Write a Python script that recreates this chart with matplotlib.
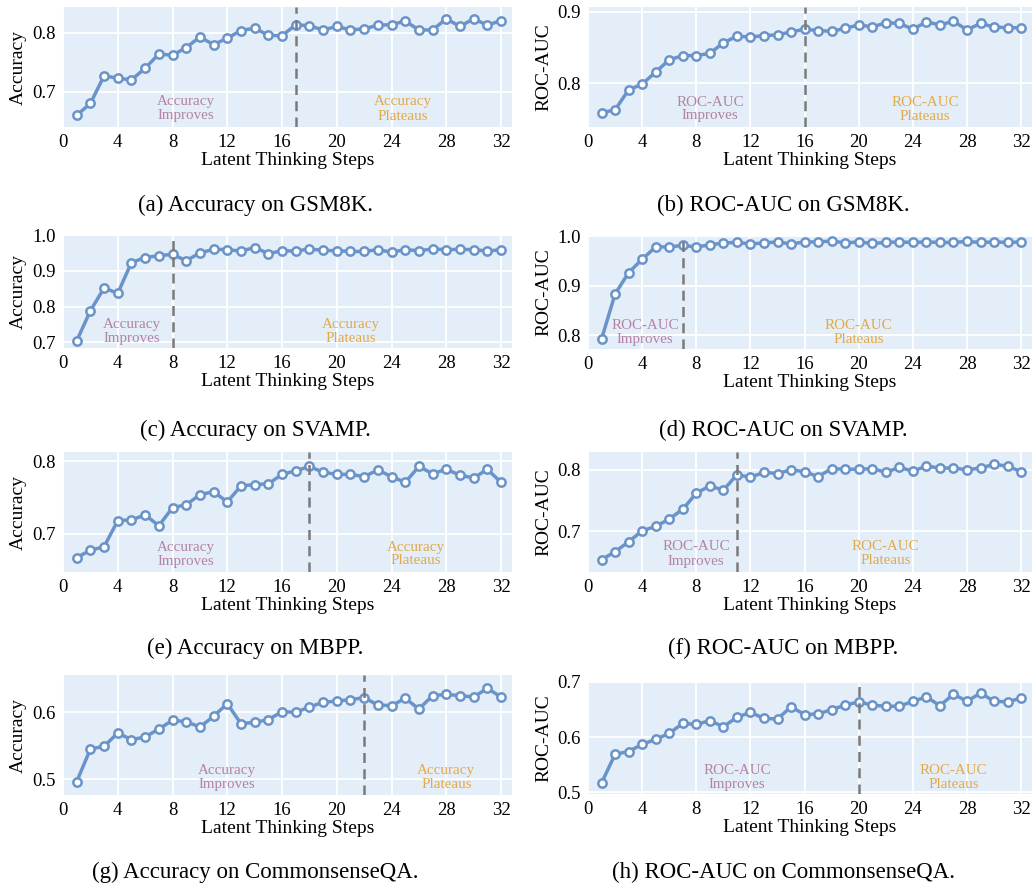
import matplotlib
matplotlib.use('Agg')
import matplotlib.pyplot as plt
from matplotlib.ticker import MultipleLocator, FormatStrFormatter

plt.rcParams['font.family'] = ['Liberation Serif', 'DejaVu Serif']

# latent thinking steps 1..32
steps = list(range(1, 33))

gsm8k_acc = [0.660, 0.680, 0.727, 0.723, 0.720, 0.740, 0.764, 0.762, 0.775, 0.793, 0.780, 0.791,
             0.804, 0.808, 0.796, 0.795, 0.814, 0.812, 0.805, 0.811, 0.805, 0.807, 0.813, 0.814,
             0.820, 0.805, 0.805, 0.824, 0.811, 0.824, 0.813, 0.821]
gsm8k_auc = [0.759, 0.763, 0.791, 0.799, 0.816, 0.833, 0.839, 0.839, 0.842, 0.857, 0.866, 0.865,
             0.867, 0.868, 0.872, 0.876, 0.874, 0.873, 0.877, 0.882, 0.879, 0.885, 0.884, 0.876,
             0.886, 0.882, 0.887, 0.875, 0.884, 0.879, 0.878, 0.878]
svamp_acc = [0.704, 0.788, 0.852, 0.837, 0.923, 0.937, 0.942, 0.946, 0.928, 0.950, 0.960, 0.959,
             0.955, 0.965, 0.948, 0.956, 0.955, 0.961, 0.957, 0.956, 0.954, 0.954, 0.959, 0.952,
             0.959, 0.956, 0.961, 0.959, 0.960, 0.959, 0.955, 0.959]
svamp_auc = [0.792, 0.883, 0.926, 0.953, 0.978, 0.978, 0.981, 0.978, 0.982, 0.986, 0.987, 0.984,
             0.986, 0.988, 0.984, 0.988, 0.988, 0.990, 0.986, 0.988, 0.985, 0.987, 0.988, 0.987,
             0.988, 0.987, 0.987, 0.989, 0.987, 0.988, 0.987, 0.988]
mbpp_acc = [0.667, 0.677, 0.682, 0.718, 0.719, 0.726, 0.711, 0.736, 0.740, 0.754, 0.758, 0.744,
            0.766, 0.768, 0.769, 0.782, 0.787, 0.793, 0.785, 0.782, 0.782, 0.779, 0.788, 0.779,
            0.771, 0.793, 0.783, 0.789, 0.781, 0.777, 0.789, 0.771]
mbpp_auc = [0.654, 0.667, 0.683, 0.701, 0.708, 0.720, 0.736, 0.762, 0.774, 0.767, 0.792, 0.788,
            0.796, 0.794, 0.800, 0.797, 0.789, 0.802, 0.801, 0.801, 0.802, 0.796, 0.804, 0.798,
            0.806, 0.803, 0.803, 0.800, 0.803, 0.809, 0.806, 0.797]
csqa_acc = [0.496, 0.545, 0.549, 0.569, 0.559, 0.563, 0.575, 0.588, 0.586, 0.578, 0.594, 0.613,
            0.583, 0.585, 0.589, 0.601, 0.600, 0.608, 0.615, 0.617, 0.619, 0.622, 0.611, 0.610,
            0.621, 0.605, 0.625, 0.627, 0.625, 0.623, 0.636, 0.623]
csqa_auc = [0.517, 0.569, 0.574, 0.587, 0.596, 0.607, 0.625, 0.623, 0.630, 0.619, 0.636, 0.645,
            0.634, 0.633, 0.655, 0.641, 0.642, 0.650, 0.658, 0.664, 0.658, 0.656, 0.656, 0.665,
            0.673, 0.657, 0.678, 0.665, 0.680, 0.665, 0.664, 0.671]

series = [gsm8k_acc, gsm8k_auc, svamp_acc, svamp_auc, mbpp_acc, mbpp_auc, csqa_acc, csqa_auc]
metrics = ['Accuracy', 'ROC-AUC'] * 4
datasets = ['GSM8K', 'GSM8K', 'SVAMP', 'SVAMP', 'MBPP', 'MBPP', 'CommonsenseQA', 'CommonsenseQA']
letters = ['a', 'b', 'c', 'd', 'e', 'f', 'g', 'h']
plateau_step = [17, 16, 8, 7, 18, 11, 22, 20]
y_top = [0.844, 0.907, 1.0, 1.0, 0.813, 0.829, 0.656, 0.70]
improve_text_x = [9.0, 9.0, 5.0, 4.2, 9.0, 8.0, 12.0, 11.0]
plateau_text_x = [24.8, 24.9, 21.0, 20.0, 25.8, 22.0, 28.0, 27.0]

# axes boxes in pixels: left, top, right, bottom
W, H = 1034, 888
boxes = [(63, 7, 512, 127), (588, 7, 1032, 127),
         (63, 235, 512, 348), (588, 236, 1032, 349),
         (63, 452, 512, 572), (588, 452, 1032, 572),
         (63, 675, 512, 795), (588, 682, 1032, 794)]
caption_y = [205, 205, 430, 430, 648, 648, 872, 872]
caption_x = [255, 783]

bg = '#e4eef8'
line_c = '#6a94c9'
improve_c = '#b382a6'
plateau_c = '#e2a94a'

fig = plt.figure(figsize=(W / 100, H / 100), dpi=100)

for i, vals in enumerate(series):
    l, t, r, b = boxes[i]
    ax = fig.add_axes([l / W, 1 - b / H, (r - l) / W, (b - t) / H])
    ax.set_facecolor(bg)
    for s in ax.spines.values():
        s.set_visible(False)
    ax.grid(True, color='white', linewidth=1.3)
    ax.set_axisbelow(True)

    ax.plot(steps, vals, color=line_c, linewidth=2.5, marker='o', markersize=6,
            markerfacecolor='white', markeredgecolor=line_c, markeredgewidth=1.8, zorder=3)
    ax.axvline(plateau_step[i], color='#7a7a7a', linestyle='--', linewidth=1.8,
               dashes=(4, 2.5), zorder=4)

    ax.set_xlim(0, 32.8)
    ax.set_ylim(min(vals) - 0.02, y_top[i])
    ax.xaxis.set_major_locator(MultipleLocator(4))
    ax.yaxis.set_major_locator(MultipleLocator(0.1))
    ax.yaxis.set_major_formatter(FormatStrFormatter('%.1f'))
    ax.tick_params(length=0, labelsize=13.5, pad=5)
    ax.set_xlabel('Latent Thinking Steps', fontsize=14, labelpad=1)
    ax.set_ylabel(metrics[i], fontsize=14, labelpad=4)

    trans = ax.get_xaxis_transform()
    ax.text(improve_text_x[i], 0.15, metrics[i] + '\nImproves', transform=trans,
            ha='center', va='center', fontsize=10.8, color=improve_c, linespacing=1.1)
    ax.text(plateau_text_x[i], 0.15, metrics[i] + '\nPlateaus', transform=trans,
            ha='center', va='center', fontsize=10.8, color=plateau_c, linespacing=1.1)

    fig.text(caption_x[i % 2] / W, 1 - caption_y[i] / H,
             '(%s) %s on %s.' % (letters[i], metrics[i], datasets[i]),
             ha='center', va='center', fontsize=16.5)

fig.savefig('out.png', dpi=100)
